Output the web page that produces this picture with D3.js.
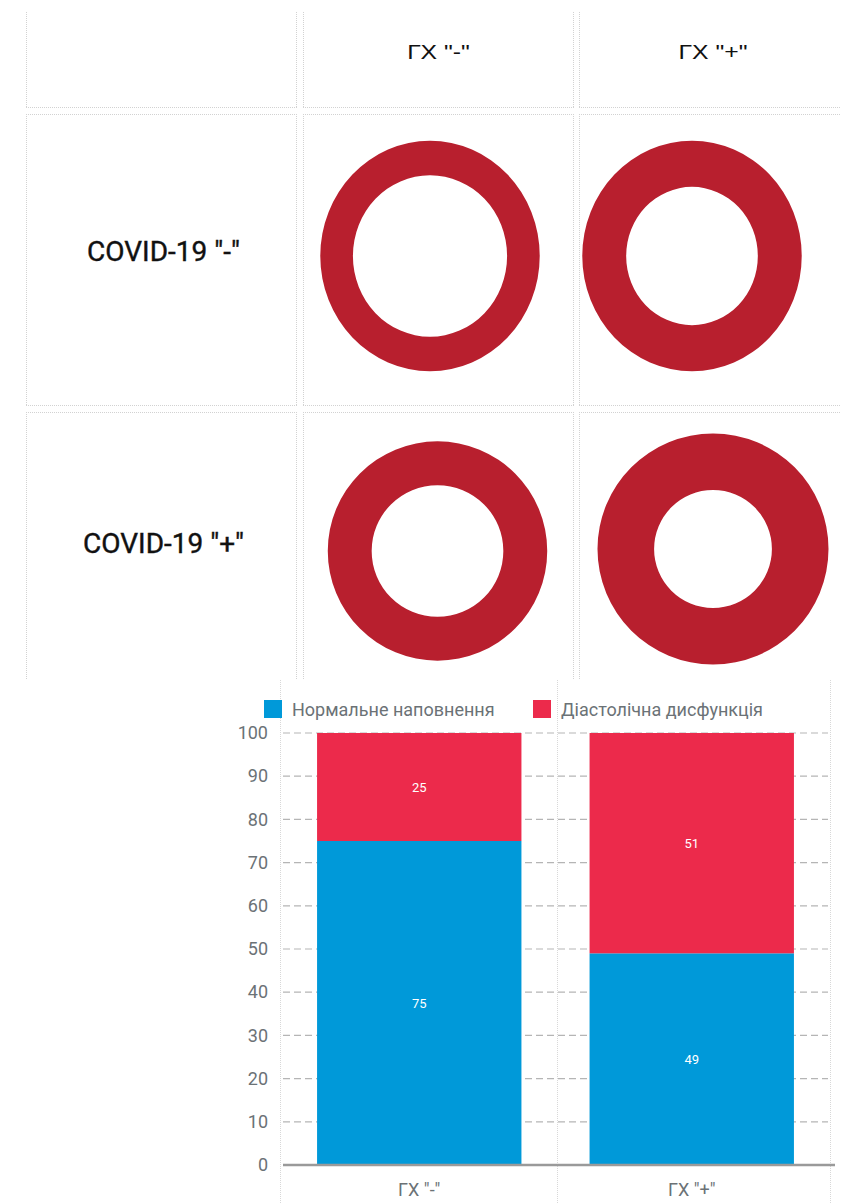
<!DOCTYPE html>
<html>
<head>
<meta charset="utf-8">
<script src="https://cdn.jsdelivr.net/npm/d3@7/dist/d3.min.js"></script>
<style>
  html, body { margin: 0; padding: 0; background: #fff; }
  svg { display: block; }
</style>
</head>
<body>
<svg id="chart" width="841" height="1203"></svg>
<script>
// ---- data ----
const ghGroups = ['ГХ "-"', 'ГХ "+"'];
const covidGroups = ['COVID-19 "-"', 'COVID-19 "+"'];

// ring matrix: rows = COVID-19 -, +; columns = ГХ -, +
const ringSize = [95, 95, 95, 100];     // relative outer size
const ringHole = [70, 60, 60, 51];      // hole as % of outer radius

const seriesNames = ["Нормальне наповнення", "Діастолічна дисфункція"];
const normalFill = [75, 49];
const dysfunction = [25, 51];
const yTicks = [0, 10, 20, 30, 40, 50, 60, 70, 80, 90, 100];

// ---- setup ----
const svg = d3.select("#chart");
svg.append("rect").attr("width", 841).attr("height", 1203).attr("fill", "#fff");

const gridStroke = "#d2d2d2";
const ringColor = "#b81f2e";
const seriesColors = ["#0099d9", "#ec2a4b"];

// ---- matrix of rings ----
const colEdges = [[26, 297], [303, 574], [579, 847]];
const rowEdges = [[12, 108], [114, 406], [412, 680]];

const table = svg.append("g").attr("class", "matrix");
rowEdges.forEach((r, ri) => {
  colEdges.forEach(c => {
    const seg = (x1, y1, x2, y2) => table.append("line")
      .attr("x1", x1).attr("y1", y1).attr("x2", x2).attr("y2", y2)
      .attr("stroke", gridStroke).attr("stroke-width", 1)
      .attr("stroke-dasharray", "1,1");
    seg(c[0] + 0.5, r[0], c[0] + 0.5, r[1]);
    seg(c[1] - 0.5, r[0], c[1] - 0.5, r[1]);
    if (ri > 0) seg(c[0], r[0] + 0.5, c[1], r[0] + 0.5);
    if (ri < rowEdges.length - 1) seg(c[0], r[1] - 0.5, c[1], r[1] - 0.5);
  });
});

// column headers
ghGroups.forEach((g, i) => {
  const cx = (colEdges[i + 1][0] + colEdges[i + 1][1]) / 2;
  table.append("text")
    .attr("transform", `translate(${cx},59) scale(1.18,1)`)
    .attr("text-anchor", "middle")
    .attr("font-family", "'Liberation Sans', Arial, sans-serif")
    .attr("font-size", 21)
    .attr("fill", "#111")
    .text(g);
});

// row headers
const rowLabelY = [261, 553];
covidGroups.forEach((g, i) => {
  const cx = (colEdges[0][0] + colEdges[0][1]) / 2 + 2;
  table.append("text")
    .attr("x", cx).attr("y", rowLabelY[i])
    .attr("text-anchor", "middle")
    .attr("font-family", "Roboto, sans-serif")
    .attr("font-weight", 400)
    .attr("font-size", 28)
    .attr("fill", "#111")
    .attr("stroke", "#111")
    .attr("stroke-width", 0.4)
    .text(g);
});

// rings
const rScale = d3.scaleLinear().domain([0, 100]).range([0, 115.5]);
const ringCenters = [[430, 256], [692, 256], [437.5, 551], [713, 549]];
const ringStretch = [1.05, 1.05, 1, 1];
ringSize.forEach((s, i) => {
  const outer = rScale(s);
  const inner = outer * ringHole[i] / 100;
  const arc = d3.arc().innerRadius(inner).outerRadius(outer)
    .startAngle(0).endAngle(2 * Math.PI);
  table.append("path")
    .attr("transform", `translate(${ringCenters[i][0]},${ringCenters[i][1]}) scale(1,${ringStretch[i]})`)
    .attr("d", arc())
    .attr("fill", ringColor);
});

// ---- stacked bar chart ----
const chart = svg.append("g").attr("class", "bars");

// panel outlines
[280, 557, 830].forEach(x => {
  chart.append("line")
    .attr("x1", x + 0.5).attr("x2", x + 0.5).attr("y1", 680).attr("y2", 1203)
    .attr("stroke", "#d8d8d8").attr("stroke-dasharray", "1,1");
});

const x = d3.scaleBand().domain(ghGroups).range([283, 828])
  .paddingInner(0.25).paddingOuter(0.125);
const y = d3.scaleLinear().domain([0, 100]).range([1165, 733]);

// grid
chart.append("g").selectAll("line").data(yTicks.filter(t => t > 0)).join("line")
  .attr("x1", 283).attr("x2", 828)
  .attr("y1", d => y(d)).attr("y2", d => y(d))
  .attr("stroke", "#b5b5b5").attr("stroke-width", 1.2)
  .attr("stroke-dasharray", "7,4");

// y axis labels
const yAxis = d3.axisLeft(y).tickValues(yTicks).tickSize(0).tickPadding(0);
const yg = chart.append("g").attr("transform", "translate(268,0)").call(yAxis);
yg.select(".domain").remove();
yg.selectAll("text")
  .attr("font-family", "Roboto, sans-serif")
  .attr("font-size", 18)
  .attr("fill", "#6b7276");

// stacked bars
const rows = ghGroups.map((g, i) => ({ group: g, normal: normalFill[i], dys: dysfunction[i] }));
const stack = d3.stack().keys(["normal", "dys"])(rows);
stack.forEach((layer, li) => {
  const g = chart.append("g");
  g.selectAll("rect").data(layer).join("rect")
    .attr("x", d => x(d.data.group))
    .attr("width", x.bandwidth())
    .attr("y", d => y(d[1]))
    .attr("height", d => y(d[0]) - y(d[1]))
    .attr("fill", seriesColors[li]);
  g.selectAll("text").data(layer).join("text")
    .attr("x", d => x(d.data.group) + x.bandwidth() / 2)
    .attr("y", d => (y(d[0]) + y(d[1])) / 2)
    .attr("dy", "0.35em")
    .attr("text-anchor", "middle")
    .attr("font-family", "Roboto, sans-serif")
    .attr("font-size", 13)
    .attr("fill", "#fff")
    .text(d => d[1] - d[0]);
});

// baseline
chart.append("line")
  .attr("x1", 283).attr("x2", 835).attr("y1", y(0)).attr("y2", y(0))
  .attr("stroke", "#9a9a9a").attr("stroke-width", 2.5);

// x axis labels
const xAxis = d3.axisBottom(x).tickSize(0).tickPadding(0);
const xg = chart.append("g").attr("transform", "translate(0,1183)").call(xAxis);
xg.select(".domain").remove();
xg.selectAll("text")
  .attr("font-family", "Roboto, sans-serif")
  .attr("font-size", 18)
  .attr("fill", "#6b7276");

// legend
const legend = chart.append("g");
const legendX = [264, 533];
seriesNames.forEach((name, i) => {
  legend.append("rect")
    .attr("x", legendX[i]).attr("y", 700).attr("width", 18).attr("height", 18)
    .attr("fill", seriesColors[i]);
  legend.append("text")
    .attr("x", legendX[i] + 28).attr("y", 716)
    .attr("font-family", "Roboto, sans-serif")
    .attr("font-size", 18)
    .attr("fill", "#6b7276")
    .text(name);
});
</script>
</body>
</html>
